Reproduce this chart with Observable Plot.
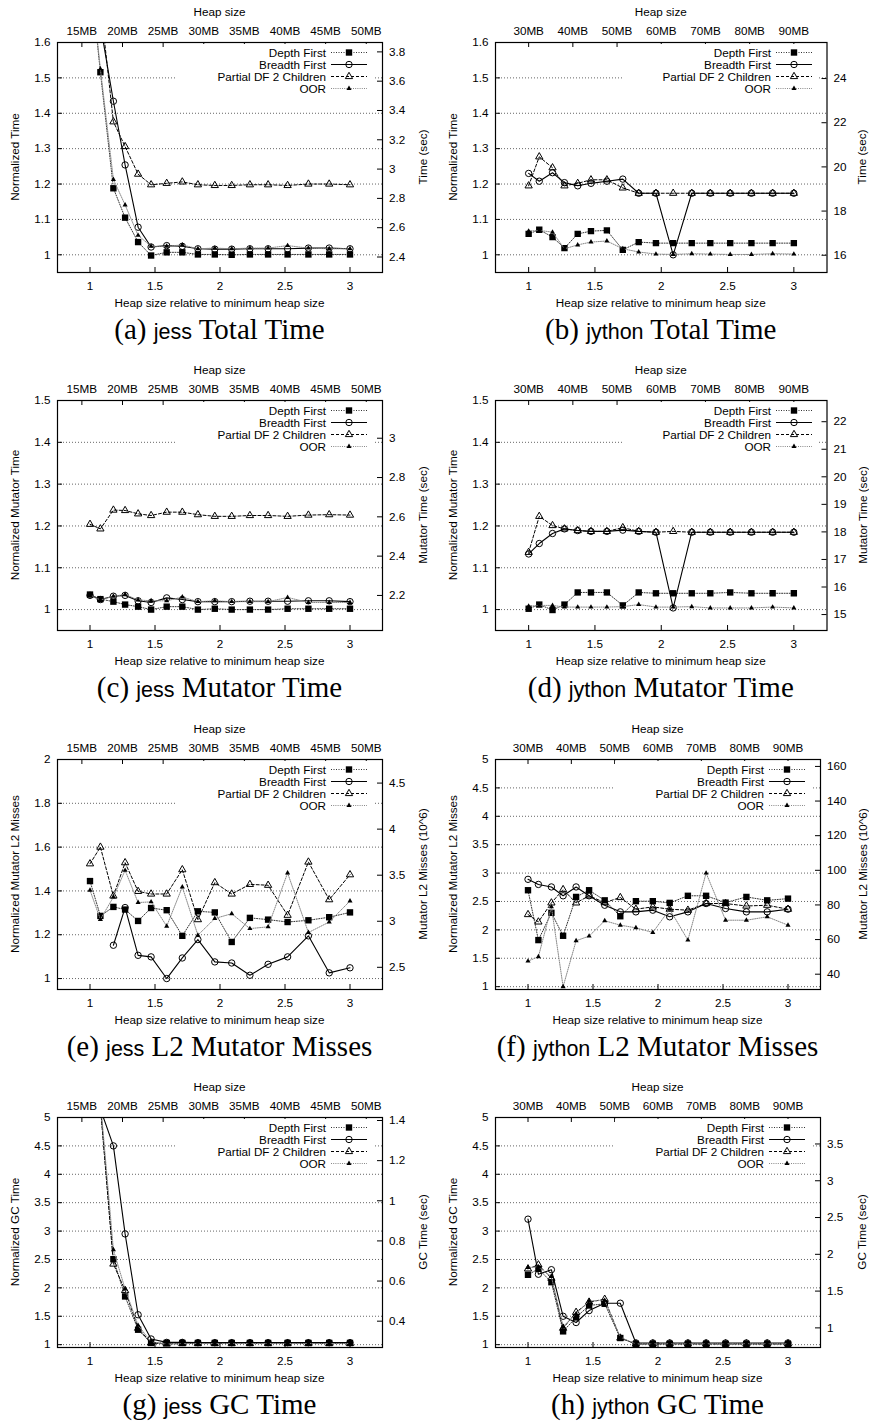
<!DOCTYPE html>
<html><head><meta charset="utf-8">
<script src="https://cdn.jsdelivr.net/npm/d3@7"></script>
<script src="https://cdn.jsdelivr.net/npm/@observablehq/plot@0.6"></script>
<style>
html,body{margin:0;padding:0;background:#fff;}
#page{position:relative;width:869px;height:1423px;overflow:hidden;font-family:"Liberation Sans",Arial,sans-serif;color:#000;}
.lab{position:absolute;font-size:11.7px;white-space:nowrap;line-height:1;}
.cap{position:absolute;white-space:nowrap;font-family:"Liberation Serif","Times New Roman",serif;font-size:29px;line-height:1;}
.cap .sf{font-family:"Liberation Sans",Arial,sans-serif;font-size:21.5px;}
.key{position:absolute;background:#fff;}
.plotbox{position:absolute;}
</style></head><body><div id="page"></div>
<script>
// ---------------- data ----------------
const heapRatio = [1, 1.08, 1.18, 1.27, 1.37, 1.47, 1.59, 1.71, 1.83, 1.96, 2.09, 2.23, 2.37, 2.52, 2.68, 2.84, 3.0];
const seriesNames = ["Depth First", "Breadth First", "Partial DF 2 Children", "OOR"];
const ratioTicks = [1, 1.5, 2, 2.5, 3];
const jessHeapTicksMB = [15, 20, 25, 30, 35, 40, 45, 50];
const jythonHeapTicksMB = [30, 40, 50, 60, 70, 80, 90];
const jessMinHeapMB = 16;
const jythonMinHeapMB = 30;

// (a) jess total time
const jessTotalDF  = [1.80, 1.516, 1.188, 1.105, 1.036, 0.998, 1.007, 1.007, 1.001, 1.001, 1.000, 1.001, 1.001, 1.001, 1.001, 1.001, 1.001];
const jessTotalBF  = [2.20, 1.65, 1.434, 1.254, 1.078, 1.022, 1.026, 1.024, 1.017, 1.016, 1.016, 1.017, 1.017, 1.017, 1.019, 1.019, 1.017];
const jessTotalPDF = [2.00, 1.71, 1.376, 1.306, 1.228, 1.198, 1.202, 1.206, 1.198, 1.196, 1.196, 1.198, 1.198, 1.196, 1.200, 1.200, 1.198];
const jessTotalOOR = [1.80, 1.525, 1.213, 1.141, 1.055, 1.024, 1.024, 1.028, 1.017, 1.019, 1.017, 1.019, 1.019, 1.026, 1.019, 1.017, 1.017];
// (b) jython total time
const jythonTotalDF  = [1.059, 1.071, 1.050, 1.019, 1.059, 1.067, 1.069, 1.014, 1.036, 1.033, 1.033, 1.033, 1.033, 1.033, 1.033, 1.033, 1.033];
const jythonTotalBF  = [1.230, 1.208, 1.232, 1.204, 1.195, 1.202, 1.208, 1.214, 1.174, 1.174, 1.000, 1.174, 1.174, 1.174, 1.174, 1.174, 1.174];
const jythonTotalPDF = [1.195, 1.277, 1.246, 1.195, 1.202, 1.212, 1.212, 1.189, 1.174, 1.174, 1.174, 1.174, 1.174, 1.174, 1.174, 1.174, 1.174];
const jythonTotalOOR = [1.067, 1.069, 1.064, 1.017, 1.028, 1.036, 1.039, 1.017, 1.008, 1.002, 1.001, 1.003, 1.002, 1.001, 1.001, 1.003, 1.002];
// (c) jess mutator time
const jessMutDF  = [1.036, 1.025, 1.019, 1.012, 1.007, 1.000, 1.007, 1.007, 1.000, 1.002, 1.000, 1.000, 1.000, 1.002, 1.002, 1.002, 1.002];
const jessMutBF  = [1.034, 1.024, 1.032, 1.034, 1.021, 1.017, 1.028, 1.024, 1.019, 1.019, 1.019, 1.020, 1.020, 1.020, 1.021, 1.021, 1.019];
const jessMutPDF = [1.204, 1.193, 1.238, 1.237, 1.229, 1.225, 1.233, 1.233, 1.227, 1.223, 1.223, 1.225, 1.225, 1.223, 1.226, 1.227, 1.226];
const jessMutOOR = [1.035, 1.023, 1.032, 1.036, 1.023, 1.021, 1.021, 1.030, 1.019, 1.021, 1.019, 1.019, 1.019, 1.029, 1.017, 1.017, 1.017];
// (d) jython mutator time
const jythonMutDF  = [1.002, 1.012, 0.999, 1.012, 1.041, 1.041, 1.041, 1.010, 1.041, 1.039, 1.039, 1.039, 1.039, 1.041, 1.039, 1.039, 1.039];
const jythonMutBF  = [1.133, 1.158, 1.182, 1.193, 1.189, 1.187, 1.187, 1.190, 1.187, 1.185, 1.004, 1.185, 1.185, 1.185, 1.185, 1.185, 1.185];
const jythonMutPDF = [1.137, 1.223, 1.201, 1.193, 1.189, 1.187, 1.187, 1.196, 1.187, 1.185, 1.187, 1.185, 1.185, 1.185, 1.185, 1.185, 1.185];
const jythonMutOOR = [1.008, 1.010, 1.010, 1.006, 1.006, 1.006, 1.006, 1.007, 1.012, 1.006, 1.006, 1.007, 1.004, 1.004, 1.004, 1.006, 1.004];
// (e) jess L2 mutator misses
const jessL2DF  = [1.445, 1.286, 1.327, 1.315, 1.263, 1.322, 1.312, 1.195, 1.307, 1.302, 1.167, 1.277, 1.269, 1.258, 1.266, 1.280, 1.302];
const jessL2BF  = [null, null, 1.152, 1.324, 1.106, 1.099, 1.000, 1.094, 1.178, 1.076, 1.071, 1.015, 1.065, 1.099, 1.195, 1.026, 1.049];
const jessL2PDF = [1.524, 1.600, 1.377, 1.529, 1.398, 1.386, 1.386, 1.497, 1.269, 1.438, 1.386, 1.430, 1.426, 1.289, 1.532, 1.360, 1.474];
const jessL2OOR = [1.403, 1.270, 1.372, 1.494, 1.347, 1.350, 1.239, 1.418, 1.198, 1.274, 1.296, 1.228, 1.236, 1.482, 1.210, 1.258, 1.354];
// (f) jython L2 mutator misses
const jythonL2DF  = [2.698, 1.820, 2.300, 1.896, 2.580, 2.698, 2.520, 2.240, 2.505, 2.505, 2.475, 2.600, 2.600, 2.480, 2.580, 2.520, 2.550];
const jythonL2BF  = [2.890, 2.800, 2.756, 2.600, 2.756, 2.600, 2.434, 2.317, 2.317, 2.347, 2.230, 2.317, 2.464, 2.376, 2.317, 2.317, 2.364];
const jythonL2PDF = [2.270, 2.140, 2.475, 2.710, 2.475, 2.600, 2.480, 2.570, 2.364, 2.405, 2.364, 2.347, 2.464, 2.464, 2.420, 2.434, 2.364];
const jythonL2OOR = [1.450, 1.527, 2.405, 1.000, 1.808, 1.890, 2.160, 2.083, 2.036, 1.954, 2.364, 1.820, 3.000, 2.170, 2.170, 2.230, 2.083];
// (g) jess GC time
const jessGcDF  = [8.0, 5.2, 2.505, 1.849, 1.263, 1.030, 1.030, 1.030, 1.030, 1.030, 1.030, 1.030, 1.030, 1.030, 1.030, 1.030, 1.030];
const jessGcBF  = [7.0, 5.15, 4.500, 2.950, 1.527, 1.100, 1.040, 1.040, 1.035, 1.035, 1.035, 1.035, 1.035, 1.035, 1.035, 1.035, 1.035];
const jessGcPDF = [8.0, 5.2, 2.420, 1.954, 1.290, 1.030, 1.012, 1.020, 1.020, 1.020, 1.020, 1.020, 1.020, 1.020, 1.020, 1.020, 1.020];
const jessGcOOR = [8.0, 5.3, 2.670, 1.980, 1.340, 1.047, 1.010, 1.020, 1.020, 1.020, 1.020, 1.020, 1.020, 1.020, 1.020, 1.020, 1.020];
// (h) jython GC time
const jythonGcDF  = [2.230, 2.335, 2.100, 1.234, 1.480, 1.690, 1.720, 1.117, 1.012, 1.012, 1.012, 1.012, 1.012, 1.012, 1.012, 1.012, 1.012];
const jythonGcBF  = [3.210, 2.240, 2.320, 1.500, 1.390, 1.600, 1.730, 1.730, 1.030, 1.030, 1.030, 1.030, 1.030, 1.030, 1.030, 1.030, 1.030];
const jythonGcPDF = [2.335, 2.405, 2.170, 1.290, 1.570, 1.750, 1.800, 1.117, 1.012, 1.015, 1.015, 1.015, 1.015, 1.015, 1.015, 1.015, 1.015];
const jythonGcOOR = [2.360, 2.370, 2.200, 1.320, 1.540, 1.770, 1.780, 1.130, 1.012, 1.015, 1.015, 1.015, 1.015, 1.015, 1.015, 1.015, 1.015];

// left (normalized) ticks
const ticksTotal = [1, 1.1, 1.2, 1.3, 1.4, 1.5, 1.6];
const ticksMut = [1, 1.1, 1.2, 1.3, 1.4, 1.5];
const ticksL2jess = [1, 1.2, 1.4, 1.6, 1.8, 2];
const ticksBig = [1, 1.5, 2, 2.5, 3, 3.5, 4, 4.5, 5];
// right (absolute) ticks and the absolute value of normalized 1.0
const secTicksJessTotal = [2.4, 2.6, 2.8, 3, 3.2, 3.4, 3.6, 3.8]; const baseJessTotal = 2.415;
const secTicksJythonTotal = [16, 18, 20, 22, 24]; const baseJythonTotal = 16.02;
const secTicksJessMut = [2.2, 2.4, 2.6, 2.8, 3]; const baseJessMut = 2.128;
const secTicksJythonMut = [15, 16, 17, 18, 19, 20, 21, 22]; const baseJythonMut = 15.18;
const missTicksJess = [2.5, 3, 3.5, 4, 4.5]; const baseJessL2 = 2.378;
const missTicksJython = [40, 60, 80, 100, 120, 140, 160]; const baseJythonL2 = 32.8;
const secTicksJessGc = [0.4, 0.6, 0.8, 1, 1.2, 1.4]; const baseJessGc = 0.283;
const secTicksJythonGc = [1, 1.5, 2, 2.5, 3, 3.5]; const baseJythonGc = 0.772;

// ---------------- styles ----------------
const seriesStyle = [
  {stroke: "#333", width: 1, dash: "1,1.5", symbol: "square", r: 3.6, fill: "black", mstroke: "none"},
  {stroke: "#000", width: 1.1, dash: null, symbol: "circle", r: 3.2, fill: "none", mstroke: "black"},
  {stroke: "#000", width: 1, dash: "3,2", symbol: "triangle", r: 2.7, fill: "none", mstroke: "black"},
  {stroke: "#888", width: 1, dash: "1,1.2", symbol: "triangle", r: 1.9, fill: "black", mstroke: "none"}
];

const panels = [
  {letter: "(a)", prog: "jess", title: "Total Time", col: 0, row: 0, fl: 57, fr: 382, ydom: [0.95, 1.6], left: ticksTotal,
   right: secTicksJessTotal, base: baseJessTotal, mb: jessHeapTicksMB, minMB: jessMinHeapMB,
   ylab: "Normalized Time", y2lab: "Time (sec)", lx: 15, rx: 423, vals: [jessTotalDF, jessTotalBF, jessTotalPDF, jessTotalOOR]},
  {letter: "(b)", prog: "jython", title: "Total Time", col: 1, row: 0, fl: 60, fr: 391.5, ydom: [0.95, 1.6], left: ticksTotal,
   right: secTicksJythonTotal, base: baseJythonTotal, mb: jythonHeapTicksMB, minMB: jythonMinHeapMB,
   ylab: "Normalized Time", y2lab: "Time (sec)", lx: 18.3, rx: 426.7, vals: [jythonTotalDF, jythonTotalBF, jythonTotalPDF, jythonTotalOOR]},
  {letter: "(c)", prog: "jess", title: "Mutator Time", col: 0, row: 1, fl: 57, fr: 382, ydom: [0.95, 1.5], left: ticksMut,
   right: secTicksJessMut, base: baseJessMut, mb: jessHeapTicksMB, minMB: jessMinHeapMB,
   ylab: "Normalized Mutator Time", y2lab: "Mutator Time (sec)", lx: 15, rx: 422.7, vals: [jessMutDF, jessMutBF, jessMutPDF, jessMutOOR]},
  {letter: "(d)", prog: "jython", title: "Mutator Time", col: 1, row: 1, fl: 60, fr: 391.5, ydom: [0.95, 1.5], left: ticksMut,
   right: secTicksJythonMut, base: baseJythonMut, mb: jythonHeapTicksMB, minMB: jythonMinHeapMB,
   ylab: "Normalized Mutator Time", y2lab: "Mutator Time (sec)", lx: 18.3, rx: 427.7, vals: [jythonMutDF, jythonMutBF, jythonMutPDF, jythonMutOOR]},
  {letter: "(e)", prog: "jess", title: "L2 Mutator Misses", col: 0, row: 2, fl: 57, fr: 382, ydom: [0.95, 2], left: ticksL2jess,
   right: missTicksJess, base: baseJessL2, mb: jessHeapTicksMB, minMB: jessMinHeapMB,
   ylab: "Normalized Mutator L2 Misses", y2lab: "Mutator L2 Misses (10^6)", lx: 15, rx: 422.7, vals: [jessL2DF, jessL2BF, jessL2PDF, jessL2OOR]},
  {letter: "(f)", prog: "jython", title: "L2 Mutator Misses", col: 1, row: 2, fl: 60, fr: 385, ydom: [0.95, 5], left: ticksBig,
   right: missTicksJython, base: baseJythonL2, mb: jythonHeapTicksMB, minMB: jythonMinHeapMB,
   ylab: "Normalized Mutator L2 Misses", y2lab: "Mutator L2 Misses (10^6)", lx: 18.3, rx: 427.7, vals: [jythonL2DF, jythonL2BF, jythonL2PDF, jythonL2OOR]},
  {letter: "(g)", prog: "jess", title: "GC Time", col: 0, row: 3, fl: 57, fr: 382, ydom: [0.95, 5], left: ticksBig,
   right: secTicksJessGc, base: baseJessGc, mb: jessHeapTicksMB, minMB: jessMinHeapMB,
   ylab: "Normalized GC Time", y2lab: "GC Time (sec)", lx: 15, rx: 422.7, vals: [jessGcDF, jessGcBF, jessGcPDF, jessGcOOR]},
  {letter: "(h)", prog: "jython", title: "GC Time", col: 1, row: 3, fl: 60, fr: 385, ydom: [0.95, 5], left: ticksBig,
   right: secTicksJythonGc, base: baseJythonGc, mb: jythonHeapTicksMB, minMB: jythonMinHeapMB,
   ylab: "Normalized GC Time", y2lab: "GC Time (sec)", lx: 18.3, rx: 426.7, vals: [jythonGcDF, jythonGcBF, jythonGcPDF, jythonGcOOR]}
];

// ---------------- layout ----------------
const page = document.getElementById("page");
const rowTops = [0, 358, 717, 1075];
const colLefts = [0, 435];
const W = 434, H = 320, FT = 42, FB = 272;
const fmt = d3.format("~g");

function addLabel(text, x, y, rotate) {
  const el = document.createElement("div");
  el.className = "lab";
  el.textContent = text;
  el.style.left = x + "px";
  el.style.top = y + "px";
  el.style.transform = "translate(-50%,-50%)" + (rotate ? " rotate(-90deg)" : "");
  page.appendChild(el);
}

panels.forEach(p => {
  const px = colLefts[p.col], py = rowTops[p.row];
  const frameW = p.fr - p.fl, frameH = FB - FT;
  const rightVals = p.right.map(s => s / p.base);
  const topVals = p.mb.map(m => m / p.minMB);
  const marks = [
    Plot.ruleY(p.left, {y: d => d, stroke: "#555", strokeWidth: 0.9, strokeDasharray: "1,2"})
  ];
  p.vals.forEach((vals, k) => {
    const st = seriesStyle[k];
    const rows = vals.map((v, i) => ({x: heapRatio[i], y: v, s: seriesNames[k]}));
    marks.push(Plot.line(rows, {x: "x", y: "y", stroke: st.stroke, strokeWidth: st.width, strokeDasharray: st.dash, clip: true}));
    marks.push(Plot.dot(rows, {x: "x", y: "y", symbol: st.symbol, r: st.r, fill: st.fill, stroke: st.mstroke, strokeWidth: 1, clip: true}));
  });
  marks.push(
    Plot.tickX(ratioTicks, {x: d => d, insetTop: frameH - 5, stroke: "black"}),
    Plot.tickX(topVals, {x: d => d, insetBottom: frameH - 5, stroke: "black"}),
    Plot.tickY(p.left, {y: d => d, insetRight: frameW - 5, stroke: "black"}),
    Plot.tickY(rightVals, {y: d => d, insetLeft: frameW - 5, stroke: "black"}),
    Plot.frame({stroke: "black", strokeWidth: 1.2}),
    Plot.axisX(ratioTicks, {anchor: "bottom", tickSize: 0, tickPadding: 9, tickFormat: d => fmt(d), label: null}),
    Plot.axisX(topVals, {anchor: "top", tickSize: 0, tickPadding: 8, tickFormat: d => Math.round(d * p.minMB) + "MB", label: null}),
    Plot.axisY(p.left, {anchor: "left", tickSize: 0, tickPadding: 7, tickFormat: d => fmt(d), label: null}),
    Plot.axisY(rightVals, {anchor: "right", tickSize: 0, tickPadding: 6.5, tickFormat: d => fmt(d * p.base), label: null})
  );
  const svg = Plot.plot({
    width: W, height: H,
    marginTop: FT, marginBottom: H - FB, marginLeft: p.fl, marginRight: W - p.fr,
    x: {domain: [0.75, 3.25]},
    y: {domain: p.ydom},
    style: {fontFamily: "'Liberation Sans', Arial, sans-serif", fontSize: "11.7px", color: "black", background: "transparent"},
    marks
  });
  const box = document.createElement("div");
  box.className = "plotbox";
  box.style.left = px + "px"; box.style.top = py + "px";
  box.appendChild(svg);
  page.appendChild(box);

  // axis titles
  const cx = px + (p.fl + p.fr) / 2;
  addLabel("Heap size", cx, py + 12);
  addLabel("Heap size relative to minimum heap size", cx, py + 302.5);
  addLabel(p.ylab, px + p.lx, py + (FT + FB) / 2, true);
  addLabel(p.y2lab, px + p.rx, py + (FT + FB) / 2, true);

  // key (opaque, top right inside the frame)
  const kw = 196, kh = 53;
  const key = document.createElement("div");
  key.className = "key";
  key.style.left = (px + p.fr - 205) + "px";
  key.style.top = (py + FT + 1.5) + "px";
  key.style.width = kw + "px"; key.style.height = kh + "px";
  page.appendChild(key);
  const ks = d3.select(key).append("svg").attr("width", kw).attr("height", kh)
    .style("font-family", "'Liberation Sans', Arial, sans-serif").style("font-size", "11.7px");
  seriesNames.forEach((name, k) => {
    const st = seriesStyle[k];
    const yy = 8.5 + k * 12;
    ks.append("text").attr("x", 149).attr("y", yy).attr("dy", "0.35em").attr("text-anchor", "end").text(name);
    ks.append("line").attr("x1", 154).attr("x2", 190).attr("y1", yy).attr("y2", yy)
      .attr("stroke", st.stroke).attr("stroke-width", st.width).attr("stroke-dasharray", st.dash);
    const symType = {square: d3.symbolSquare, circle: d3.symbolCircle, triangle: d3.symbolTriangle}[st.symbol];
    ks.append("path").attr("d", d3.symbol(symType, Math.PI * st.r * st.r)())
      .attr("transform", `translate(172,${yy})`)
      .attr("fill", st.fill).attr("stroke", st.mstroke).attr("stroke-width", 1);
  });

  // caption
  const cap = document.createElement("div");
  cap.className = "cap";
  cap.innerHTML = `${p.letter} <span class="sf">${p.prog}</span> ${p.title}`;
  cap.style.left = cx + "px";
  cap.style.top = (py + 339 - 24.3) + "px";
  cap.style.transform = "translateX(-50%)";
  page.appendChild(cap);
});
</script>
</body></html>
